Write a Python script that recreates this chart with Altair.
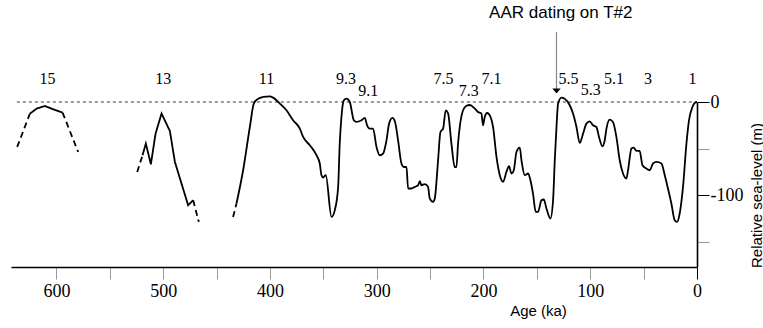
import altair as alt
import pandas as pd

# ---- data (ages in ka, relative sea level in m) ----
mis15_rise_age = [636.7, 624.8]
mis15_rise_sl = [-48.2, -12.5]
mis15_top_age = [624.8, 618.5, 610.8, 603.0, 594.2]
mis15_top_sl = [-12.5, -7.1, -4.3, -7.8, -11.4]
mis15_fall_age = [594.2, 579.6]
mis15_fall_sl = [-11.4, -53.6]

mis13_rise_age = [524.3, 519.3]
mis13_rise_sl = [-75.0, -57.1]
mis13_age = [519.3, 516.2, 511.5, 507.1, 501.5, 493.7, 489.0, 482.8, 476.6, 471.9]
mis13_sl = [-57.1, -44.6, -66.8, -33.9, -12.4, -31.1, -64.3, -87.5, -110.7, -105.4]
mis13_fall_age = [471.9, 466.6]
mis13_fall_sl = [-105.4, -128.6]

mis11_start_age = [434.5, 431.3]
mis11_start_sl = [-123.3, -108.9]

main_age = [431.3, 425.1, 418.8, 415.1, 411, 406.4, 400.1, 397, 390.7, 384.5, 378.3, 372, 368.9,
            362.6, 356.4, 353.3, 351.7, 350.2, 347.7, 342.3, 339.2, 336.1, 334.6, 333, 330.8, 328.3,
            325.2, 321.4, 318.9, 314.2, 311.1, 309, 306.5, 303.4, 300.2, 297.1, 294, 290.8, 288.4,
            285.2, 282.8, 280, 276.8, 274.6, 272.1, 270.6, 267.4, 264.3, 261.2, 259.6, 258.1, 255,
            251.9, 250.3, 247.2, 245.6, 242.5, 240.3, 237.8, 235.3, 233.1, 230, 226.9, 225.3, 223.8,
            222.2, 219.1, 215.9, 212.8, 208.1, 205.1, 201.9, 200.4, 198.8, 196.6, 193.4, 191, 187.8,
            184.7, 181.6, 178.5, 176, 173.8, 171.6, 169.1, 166, 164.4, 161.3, 158.2, 156, 153.6, 151,
            148.9, 145.7, 143.5, 141, 137.3, 134.8, 133.2, 131.6, 130.1, 127, 123.9, 119.2, 116.1,
            112.9, 109.8, 106.7, 103.6, 100.5, 97.4, 94.2, 91.8, 88.6, 86.4, 84.8, 81.7, 78.7, 75.5,
            72.4, 69.3, 66.1, 64.6, 61.4, 59.3, 56.7, 53.7, 51.1, 47.4, 44.3, 41.2, 38, 33.3, 30.2,
            27.2, 24, 20.9, 18.7, 16.2, 13.1, 9.9, 7.5, 4.3, 2.2, 0]
main_sl = [-108.9, -73.2, -26.8, -1.7, 3.6, 5.4, 6.1, 4.7, -1.7, -8.9, -19.6, -28.5, -37.5, -46.4,
           -57.1, -66, -78.6, -81, -78.6, -123.3, -116, -91.1, -44.6, -16, 1.8, 3.6, 0, -19.6, -21.4,
           -19.6, -17.1, -25, -28.5, -28.5, -48.2, -57.1, -55.3, -41, -23.2, -17.1, -21.4, -41, -66,
           -69.7, -69.7, -92.8, -92.8, -91.1, -89.3, -85, -89.3, -88, -91.1, -103.5, -107.2, -103.5,
           -62.5, -32.2, -28.5, -8.9, -12.4, -44.6, -69.7, -69.7, -44.6, -26.8, -8.9, -4, -3.2, -7.1,
           -10.7, -12.4, -25, -16, -11.8, -16, -26.8, -58.9, -78.6, -85.7, -75, -68.9, -76.7, -73.2,
           -53.6, -48.9, -62.5, -78.6, -76.7, -83.9, -98.2, -117.9, -117.9, -105.4, -104.6, -114.3,
           -125, -105.4, -62.5, -26.8, -1.7, 4.7, 3.6, -3.5, -12.4, -26.8, -43.9, -33.9, -23.2, -20.7,
           -25, -26.8, -37.5, -47.5, -41, -28.5, -18.9, -21.4, -37.5, -62.5, -76.7, -82.1, -73.2,
           -49.9, -48.9, -52.5, -52.5, -67.8, -71.4, -73.2, -66, -64.3, -66, -78.6, -92.8, -108.9,
           -126.8, -128.6, -119.6, -91.1, -44.6, -19.6, -5.4, -1.1, 0]

mis_labels = ["15", "13", "11", "9.3", "9.1", "7.5", "7.3", "7.1", "5.5", "5.3", "5.1", "3", "1"]
mis_label_age = [608.4, 500.0, 403.2, 328.7, 308.0, 237.5, 213.8, 192.5, 120.4, 99.5, 77.7, 45.9, 4.3]
mis_label_sl = [25, 25, 25, 25, 11.5, 25, 11.5, 25, 25, 12.5, 25, 25, 25]

annot_text = ["AAR dating on T#2"]
annot_age = [127.6]
annot_sl = [96]
arrow_age = [131.6]
arrow_top = [75]
arrow_bottom = [14]
arrow_head_sl = [11.7]

X_DOMAIN = [642.5, 0]
Y_DOMAIN = [-177, 0]
SERIF = "Liberation Serif, Times New Roman, DejaVu Serif, serif"
SANS = "Liberation Sans, Arial, sans-serif"

# ---- tables ----
segments = [
    ("a", "dashed", mis15_rise_age, mis15_rise_sl),
    ("b", "solid", mis15_top_age, mis15_top_sl),
    ("c", "dashed", mis15_fall_age, mis15_fall_sl),
    ("d", "dashed", mis13_rise_age, mis13_rise_sl),
    ("e", "solid", mis13_age, mis13_sl),
    ("f", "dashed", mis13_fall_age, mis13_fall_sl),
    ("g", "dashed", mis11_start_age, mis11_start_sl),
]
rows = []
for sid, style, ages, sls in segments:
    for a, s in zip(ages, sls):
        rows.append({"age": a, "sl": s, "seg": sid, "style": style})
seg_df = pd.DataFrame(rows)
assert len(main_age) == len(main_sl)
main_df = pd.DataFrame({"age": main_age, "sl": main_sl})

x = alt.X("age:Q", scale=alt.Scale(domain=X_DOMAIN, nice=False, zero=False),
          axis=alt.Axis(values=[600, 550, 500, 450, 400, 350, 300, 250, 200, 150, 100, 50, 0],
                        labelExpr="datum.value % 100 == 0 ? datum.label : ''",
                        title="Age (ka)", titleFont=SANS, titleFontSize=15,
                        titleFontWeight="normal", titleColor="black",
                        titleX=527, titleY=43, titleBaseline="middle", titleAlign="center",
                        labelFont=SERIF, labelFontSize=18, labelColor="black",
                        labelPadding=3, tickSize=12, tickWidth=1,
                        tickColor=alt.condition("datum.value == 0", alt.value("black"), alt.value("#999999")),
                        domainColor="black", domainWidth=1.6, grid=False, labelFlush=False))
y = alt.Y("sl:Q", scale=alt.Scale(domain=Y_DOMAIN, nice=False, zero=False),
          axis=alt.Axis(orient="right", values=[0, -50, -100, -150],
                        labelExpr="datum.value % 100 == 0 ? (datum.value == 0 ? '0' : '-' + abs(datum.value)) : ''",
                        title="Relative sea-level (m)", titleFont=SANS, titleFontSize=15,
                        titleFontWeight="normal", titleColor="black", titleAngle=270,
                        titleX=59, titleY=93, titleBaseline="middle", titleAlign="center",
                        labelFont=SERIF, labelFontSize=18, labelColor="black",
                        labelPadding=1, tickSize=12, tickWidth=1,
                        tickColor=alt.condition("datum.value % 100 == 0", alt.value("black"), alt.value("#999999")),
                        domainColor="black", domainWidth=1.6, grid=False, labelFlush=False,
                        labelBaseline="middle"))

zero_df = pd.DataFrame({"x1": [637.0], "x2": [0.0], "y": [0.0]})
zero_line = alt.Chart(zero_df).mark_rule(color="black", strokeWidth=0.8, strokeDash=[3, 3]).encode(
    x=alt.X("x1:Q", scale=alt.Scale(domain=X_DOMAIN, nice=False, zero=False)), x2="x2:Q",
    y=alt.Y("y:Q", scale=alt.Scale(domain=Y_DOMAIN, nice=False, zero=False)))

seg_lines = alt.Chart(seg_df).mark_line(color="black", strokeWidth=1.8).encode(
    x=x, y=y, detail="seg:N",
    strokeDash=alt.StrokeDash("style:N", scale=alt.Scale(domain=["dashed", "solid"],
                                                         range=[[6, 4], [1, 0]]), legend=None))

main_line = alt.Chart(main_df).mark_line(color="black", strokeWidth=1.8, interpolate="monotone").encode(
    x=x, y=y)

lab_df = pd.DataFrame({"age": mis_label_age, "sl": mis_label_sl, "t": mis_labels})
labels = alt.Chart(lab_df).mark_text(font=SERIF, fontSize=16, color="black",
                                     baseline="middle", align="center").encode(
    x="age:Q", y="sl:Q", text="t:N")

ann_df = pd.DataFrame({"age": annot_age, "sl": annot_sl, "t": annot_text})
ann = alt.Chart(ann_df).mark_text(font=SANS, fontSize=17, color="black",
                                  baseline="middle", align="center").encode(
    x="age:Q", y="sl:Q", text="t:N")

arr_df = pd.DataFrame({"age": arrow_age, "top": arrow_top, "bot": arrow_bottom, "head": arrow_head_sl})
arrow_line = alt.Chart(arr_df).mark_rule(color="#888888", strokeWidth=1.2).encode(
    x="age:Q", y="top:Q", y2="bot:Q")
arrow_head = alt.Chart(arr_df).mark_point(shape="M-1,-0.6L1,-0.6L0,0.6Z", size=70, filled=True,
                                          color="black", opacity=1).encode(
    x="age:Q", y="head:Q")

chart = alt.layer(zero_line, seg_lines, main_line, labels, ann, arrow_line, arrow_head).properties(
    width=686, height=165,
    autosize=alt.AutoSizeParams(type="none"),
    padding={"left": 11, "top": 102, "right": 66, "bottom": 61},
    background="white",
).configure_view(stroke=None)

chart.save("out.html", embed_options={"renderer": "svg", "actions": False})
